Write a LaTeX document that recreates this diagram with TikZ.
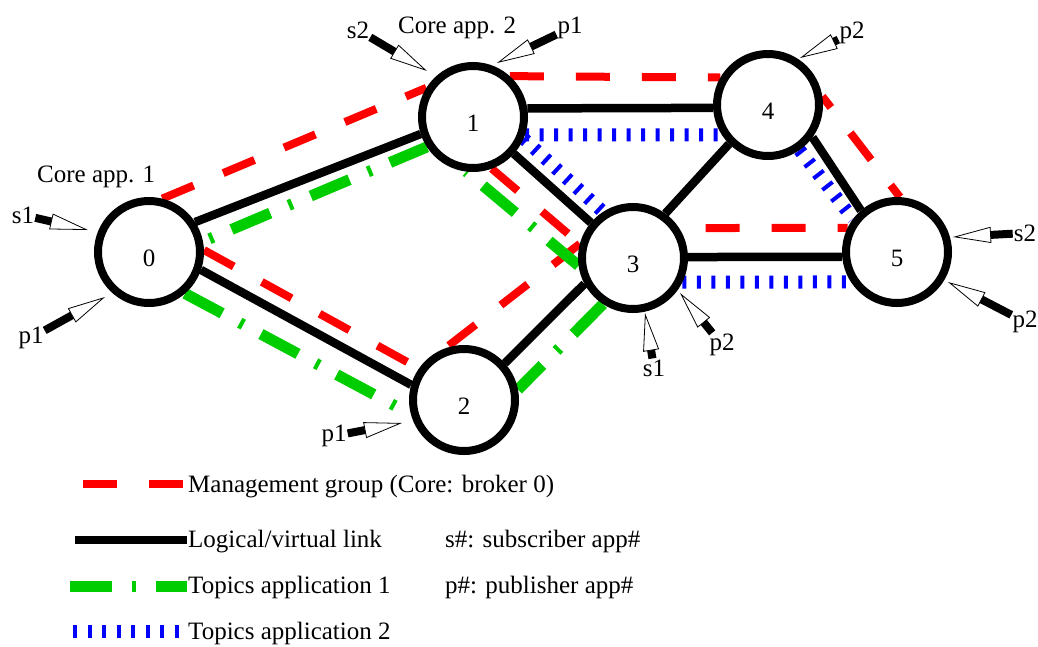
\documentclass[tikz,border=0pt]{standalone}
\usepackage{fontspec}
\setmainfont{Liberation Serif}
\usetikzlibrary{arrows.meta,backgrounds}
\definecolor{mred}{RGB}{255,0,0}
\definecolor{mgreen}{RGB}{0,205,0}
\definecolor{mblue}{RGB}{0,0,255}
\begin{document}
\begin{tikzpicture}[x=1pt,y=-1pt,font=\fontsize{25}{30}\selectfont,
  brk/.style={circle,draw,line width=8pt,fill=white,minimum size=102pt,inner sep=0pt,text height=28pt,text depth=0pt},
  lnk/.style={line width=8.5pt,black},
  mgmt/.style={line width=8pt,mred,dash pattern=on 34pt off 32pt},
  topa/.style={line width=11pt,mgreen,dash pattern=on 42pt off 20pt on 4pt off 20pt},
  topb/.style={line width=13pt,mblue,dash pattern=on 4pt off 10.5pt},
  appar/.style={line width=8pt,-{Triangle[open,length=38pt,width=16pt,line width=0.8pt]}},
  lab/.style={inner sep=1pt}
]
\useasboundingbox (0,0) rectangle (1038,646);

% brokers
\node[brk] (n0) at (149,252) {0};
\node[brk] (n1) at (473,117) {1};
\node[brk] (n2) at (464,400) {2};
\node[brk] (n3) at (633,258) {3};
\node[brk] (n4) at (768,105) {4};
\node[brk] (n5) at (897,252) {5};

\begin{scope}[on background layer]
  % logical links
  \draw[lnk] (n0.33) -- (n1.198);
  \draw[lnk] (n0.-19) -- (n2.164.5);
  \draw[lnk] (n1.9) -- (n4.183);
  \draw[lnk] (n1.-42) -- (n3.140);
  \draw[lnk] (n2.42) -- (n3.208.5);
  \draw[lnk] (n3.54.6) -- (n4.225);
  \draw[lnk] (n3.1) -- (n5.185);
  \draw[lnk] (n4.-36.7) -- (n5.131);
  % management group
  \draw[mgmt] (n0.76.5) -- (n1.148);
  \draw[mgmt] (n1.48.6) -- (n4.150);
  \draw[mgmt,dash phase=20pt] (n4.9.5) -- (n5.87);
  \draw[mgmt,dash phase=24pt] (n5.154) -- (n3.33);
  \draw[mgmt] (n1.-70) -- (n3.165);
  \draw[mgmt] (n3.165) -- (n2.110);
  \draw[mgmt] (n0.2) -- (n2.145);
  % topics application 1
  \draw[topa,dash phase=55pt] (n0.11.5) -- (n1.213);
  \draw[topa,dash phase=64pt] (n1.-97) -- (n3.188.6);
  \draw[topa] (n3.237) -- (n2.11.5);
  \draw[topa] (n0.-49.6) -- (n2.195.5);
  % topics application 2
  \draw[topb] (n1.-19) -- (n4.213);
  \draw[topb] (n1.-23.8) -- (n3.123);
  \draw[topb] (n4.-55.8) -- (n5.143);
  \draw[topb] (n3.-26) -- (n5.213);
\end{scope}

% core labels
\node[lab,anchor=base west] (c1) at (36,182) {Core app. 1};
\node[lab,anchor=base west] (c2) at (397,33) {Core app. 2};

% application arrows
\node[lab] (la1) at (23,215) {s1};
\node[lab] (la2) at (31,338) {p1};
\node[lab] (la3) at (358,30) {s2};
\node[lab] (la4) at (570,28) {p1};
\node[lab] (la5) at (852,33) {p2};
\node[lab] (la6) at (1025,233) {s2};
\node[lab] (la7) at (1025,322) {p2};
\node[lab] (la8) at (654,368) {s1};
\node[lab] (la9) at (722,345) {p2};
\node[lab] (la10) at (334,436) {p1};
\coordinate (ta1) at (88,230);
\coordinate (ta2) at (105,297);
\coordinate (ta3) at (427,71);
\coordinate (ta4) at (497,63);
\coordinate (ta5) at (800,58);
\coordinate (ta6) at (953,237);
\coordinate (ta7) at (948,282);
\coordinate (ta8) at (645,313);
\coordinate (ta9) at (680,293);
\coordinate (ta10) at (402,423);
\foreach \i in {1,...,10} { \draw[appar] (la\i) -- (ta\i); }

% legend
\node[lab,anchor=base west] (lg1) at (187,492) {Management group (Core: broker 0)};
\node[lab,anchor=base west] (lg2) at (187,547) {Logical/virtual link};
\node[lab,anchor=base west] (lg3) at (187,593) {Topics application 1};
\node[lab,anchor=base west] (lg4) at (187,639) {Topics application 2};
\node[lab,anchor=base west] (lg5) at (444,547) {s\#: subscriber app\#};
\node[lab,anchor=base west] (lg6) at (444,593) {p\#: publisher app\#};
\coordinate (ls1) at (83,484);
\coordinate (ls2) at (75,540);
\coordinate (ls3) at (70,586);
\coordinate (ls4) at (73,631);
\draw[mgmt] (ls1) -- (ls1 -| lg1.west);
\draw[lnk] (ls2) -- (ls2 -| lg2.west);
\draw[topa] (ls3) -- (ls3 -| lg3.west);
\draw[topb] (ls4) -- (ls4 -| lg4.west);
\end{tikzpicture}
\end{document}
